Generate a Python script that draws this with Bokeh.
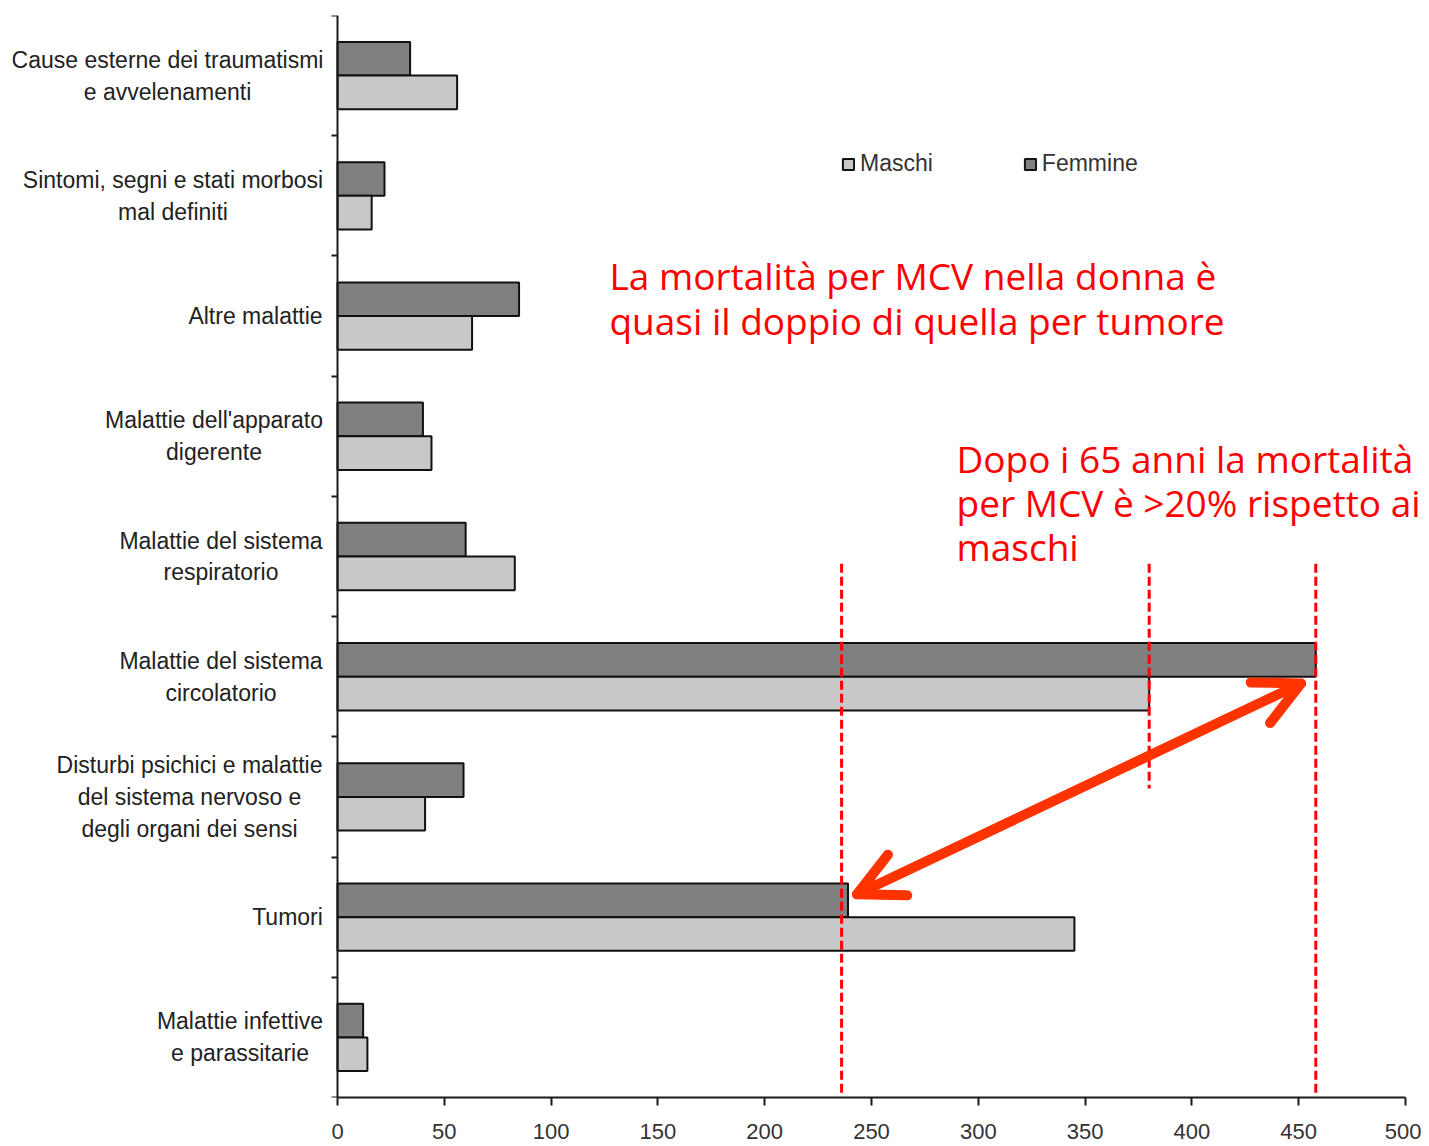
from bokeh.plotting import figure
from bokeh.models import (Range1d, FixedTicker, Legend, LegendItem, Label, Arrow,
                          OpenHead, ColumnDataSource)
from bokeh.transform import dodge
from bokeh.embed import file_html
from bokeh.resources import INLINE

categories = [
    "Cause esterne dei traumatismi\ne avvelenamenti",
    "Sintomi, segni e stati morbosi\nmal definiti",
    "Altre malattie",
    "Malattie dell'apparato\ndigerente",
    "Malattie del sistema\nrespiratorio",
    "Malattie del sistema\ncircolatorio",
    "Disturbi psichici e malattie\ndel sistema nervoso e\ndegli organi dei sensi",
    "Tumori",
    "Malattie infettive\ne parassitarie",
]
maschi = [56, 16, 63, 44, 83, 380, 41, 345, 14]
femmine = [34, 22, 85, 40, 60, 458, 59, 239, 12]
x_ticks = [0, 50, 100, 150, 200, 250, 300, 350, 400, 450, 500]

# annotations (data units)
ref_x = [236, 380, 458]
ref_y0 = [4.56, 4.56, 4.56]
ref_y1 = [8.96, 6.43, 8.96]
arrow_from = (243.2, 7.31)
arrow_to = (451.1, 5.556)
note1 = ["La mortalità per MCV nella donna è", "quasi il doppio di quella per tumore"]
note2 = ["Dopo i 65 anni la mortalità", "per MCV è >20% rispetto ai", "maschi"]

# approximate widest-line width (px) of each category label, used to centre lines
label_w = [310, 299, 134, 217, 203, 203, 266, 70, 165]

# layout (pixels)
W, H = 1421, 1146
FRAME_LEFT = 12          # frame starts here; the value axis sits at x=0 further right
AXIS_X = 337             # pixel position of x = 0
PX_PER_UNIT = 1068 / 500
LABEL_GAP = 15

n = len(categories)
pos = [i + 0.5 for i in range(n)]
bounds = list(range(n + 1))
label_cx = [-(LABEL_GAP + w / 2) / PX_PER_UNIT for w in label_w]
src = ColumnDataSource(dict(pos=pos, maschi=maschi, femmine=femmine))
lab_src = ColumnDataSource(dict(cx=label_cx, pos=pos, cat=categories))

x_start = -(AXIS_X - FRAME_LEFT) / PX_PER_UNIT
x_end = 500 + (W - (AXIS_X + 1068)) / PX_PER_UNIT

p = figure(width=W, height=H, x_range=Range1d(x_start, x_end), y_range=Range1d(n, 0),
           output_backend="svg", toolbar_location=None,
           min_border_left=FRAME_LEFT, min_border_right=0, min_border_top=15,
           min_border_bottom=49)
p.xgrid.visible = False
p.ygrid.visible = False
p.outline_line_color = None
p.background_fill_color = "white"

rf = p.hbar(y=dodge("pos", -0.14, range=p.y_range), left=0, right="femmine", height=0.28,
            fill_color="#808080", line_color="#111111", line_width=2, source=src)
rm = p.hbar(y=dodge("pos", 0.14, range=p.y_range), left=0, right="maschi", height=0.28,
            fill_color="#c8c8c8", line_color="#111111", line_width=2, source=src)

# x axis
xa = p.xaxis[0]
xa.bounds = (0, 500)
xa.ticker = FixedTicker(ticks=x_ticks, minor_ticks=[])
xa.axis_line_color = "#1a1a1a"
xa.axis_line_width = 2
xa.major_tick_line_color = "#1a1a1a"
xa.major_tick_line_width = 2
xa.major_tick_out = 8
xa.major_tick_in = 0
xa.major_label_text_font = "Liberation Sans"
xa.major_label_text_font_size = "22px"
xa.major_label_text_color = "#333333"
xa.major_label_standoff = 18

# y axis at x = 0, ticks at category boundaries
ya = p.yaxis[0]
ya.fixed_location = 0
ya.ticker = FixedTicker(ticks=bounds, minor_ticks=[])
ya.major_label_overrides = {b: "" for b in bounds}
ya.major_label_standoff = 0
ya.axis_line_color = "#1a1a1a"
ya.axis_line_width = 2
ya.major_tick_out = 6
ya.major_tick_in = 0
ya.major_tick_line_color = "#1a1a1a"
ya.major_tick_line_width = 2

# category labels, lines centred, block right-aligned next to the axis
p.text(x="cx", y="pos", text="cat", source=lab_src, text_align="center",
       text_baseline="middle", text_font={"value": "Liberation Sans"},
       text_font_size="23px", text_color="#222222", text_line_height=1.23)

legend = Legend(items=[LegendItem(label="Maschi", renderers=[rm]),
                       LegendItem(label="Femmine", renderers=[rf])],
                orientation="horizontal", location=(841 - FRAME_LEFT, 920),
                padding=0, margin=0, spacing=90, label_standoff=5,
                glyph_width=14, glyph_height=14,
                border_line_alpha=0, background_fill_alpha=0,
                label_text_font="Liberation Sans", label_text_font_size="23px",
                label_text_color="#333333")
p.add_layout(legend)

p.segment(x0=ref_x, y0=ref_y0, x1=ref_x, y1=ref_y1, line_color="#ff0000",
          line_width=3, line_dash="9 4")

head_kw = dict(size=45, line_color="#ff3300", line_width=10, line_cap="round", line_join="round")
p.add_layout(Arrow(start=OpenHead(**head_kw), end=OpenHead(**head_kw),
                   x_start=arrow_from[0], y_start=arrow_from[1],
                   x_end=arrow_to[0], y_end=arrow_to[1],
                   line_color="#ff3300", line_width=10, line_cap="round"))

for i, t in enumerate(note1):
    p.add_layout(Label(x=127.3, y=2.162 + i * 0.374, text=t, text_color="#ff0000",
                       text_font="Open Sans", text_font_size="37px",
                       text_baseline="alphabetic"))
for i, t in enumerate(note2):
    p.add_layout(Label(x=289.8, y=3.684 + i * 0.365, text=t, text_color="#ff0000",
                       text_font="Open Sans", text_font_size="37px",
                       text_baseline="alphabetic"))

open("out.html", "w").write(file_html(p, INLINE))
